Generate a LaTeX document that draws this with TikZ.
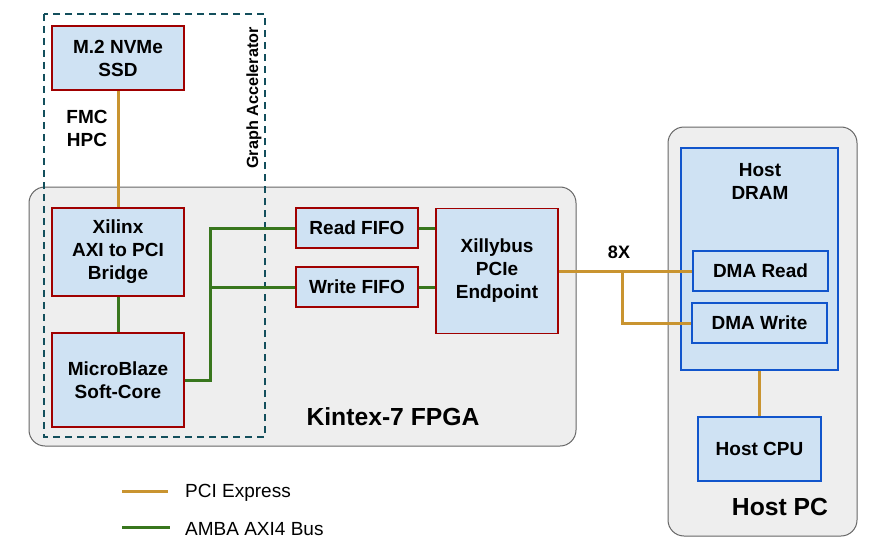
\documentclass[tikz,border=0pt]{standalone}
\usepackage{fontspec}
\setmainfont{Liberation Sans}
\usetikzlibrary{positioning}
\definecolor{pcieorange}{RGB}{201,148,48}
\definecolor{axigreen}{RGB}{56,118,29}
\definecolor{blkred}{RGB}{160,0,0}
\definecolor{blkfill}{RGB}{207,226,243}
\definecolor{hostblue}{RGB}{17,85,204}
\definecolor{boardgray}{RGB}{238,238,238}
\definecolor{boardedge}{RGB}{102,102,102}
\definecolor{accteal}{RGB}{19,79,92}

\tikzset{
  fpgablk/.style={draw=blkred, fill=blkfill, line width=1.6pt, align=center, inner sep=0pt,
    font=\fontsize{19}{23}\selectfont\bfseries},
  hostblk/.style={fpgablk, draw=hostblue},
  board/.style={draw=boardedge, fill=boardgray, line width=1pt, rounded corners=16pt},
  pcie/.style={draw=pcieorange, line width=3pt},
  axi/.style={draw=axigreen, line width=3pt},
  boardlabel/.style={font=\fontsize{24.7}{29}\selectfont\bfseries, inner sep=0pt},
}

\begin{document}
\begin{tikzpicture}[x=1pt,y=-1pt]
\useasboundingbox (0,0) rectangle (873,551);
% boards
\draw[board] (29,187) rectangle (576,446);
\draw[board] (668,127) rectangle (857,536);
\draw[accteal, line width=2pt, dash pattern=on 7pt off 5pt] (44,14) rectangle (265,437);

% FPGA side
\node[fpgablk, minimum width=132pt, minimum height=64pt] (ssd) at (118,58) {M.2 NVMe\\SSD};
\node[fpgablk, minimum width=132pt, minimum height=88pt] (xilinx) at (118,252) {Xilinx\\AXI to PCI\\Bridge};
\node[fpgablk, minimum width=132pt, minimum height=94pt] (mblaze) at (118,380) {MicroBlaze\\Soft-Core};
\node[fpgablk, minimum width=122pt, minimum height=40pt] (rdfifo) at (357,228) {Read FIFO};
\node[fpgablk, minimum width=122pt, minimum height=40pt] (wrfifo) at (357,287) {Write FIFO};
\node[fpgablk, minimum width=122pt, minimum height=125pt] (xillybus) at (497,271) {Xillybus\\PCIe\\Endpoint};
\node[font=\fontsize{19}{23}\selectfont\bfseries, align=center] (fmc) at (87,128) {FMC\\HPC};
\node[rotate=90, font=\fontsize{16.2}{19}\selectfont\bfseries] (accel) at (254,98) {Graph Accelerator};
\node[boardlabel] (fpgalabel) at (393,417) {Kintex-7 FPGA};

% host side
\node[hostblk, minimum width=157pt, minimum height=222pt] (dram) at (759.5,259) {};
\node[font=\fontsize{19}{23}\selectfont\bfseries, align=center] (dramlabel) at (760,181) {Host\\DRAM};
\node[hostblk, minimum width=135pt, minimum height=40pt] (dmard) at (760.5,271) {DMA Read};
\node[hostblk, minimum width=135pt, minimum height=40pt] (dmawr) at (759.5,323) {DMA Write};
\node[hostblk, minimum width=123pt, minimum height=64pt] (hostcpu) at (759.5,449) {Host CPU};
\node[boardlabel] (pclabel) at (780,507) {Host PC};

% buses
\draw[pcie] (ssd) -- (xilinx);
\draw[axi] (xilinx) -- (mblaze);
\draw[axi] (mblaze.east) -- ++(26,0) coordinate (axijoin) |- (rdfifo.west);
\draw[axi] (axijoin) |- (wrfifo.west);
\draw[axi] (rdfifo.east) -- (rdfifo.east -| xillybus.west);
\draw[axi] (wrfifo.east) -- (wrfifo.east -| xillybus.west);
\coordinate (lanesplit) at (622,271);
\draw[pcie] (xillybus.east) -- (dmard.west);
\draw[pcie] (lanesplit) |- (dmawr.west);
\node[font=\fontsize{18}{22}\selectfont\bfseries] (lanes) at (619,252) {8X};
\draw[pcie] (dram) -- (hostcpu);

% legend
\coordinate (legpcie) at (122,491);
\coordinate (legaxi) at (122,527);
\draw[pcie] (legpcie) -- ++(46,0);
\draw[axi] (legaxi) -- ++(48,0);
\node[anchor=west, inner sep=0pt, font=\fontsize{19}{22}\selectfont] (legpcietxt) at (185,493) {PCI Express};
\node[anchor=west, inner sep=0pt, font=\fontsize{19}{22}\selectfont] (legaxitxt) at (185,529) {AMBA AXI4 Bus};
\end{tikzpicture}
\end{document}
